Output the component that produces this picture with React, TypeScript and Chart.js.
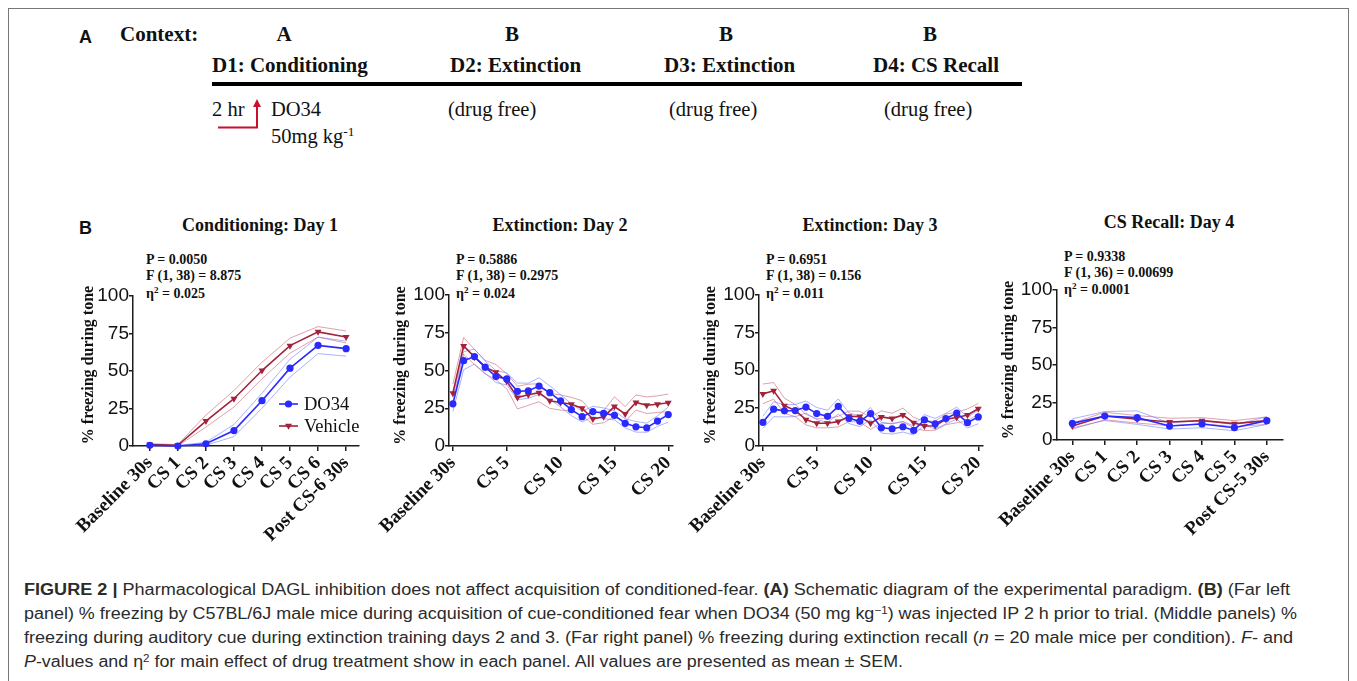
import React, { useEffect, useLayoutEffect, useRef } from "react";
import { Chart, registerables } from "chart.js";

Chart.register(...registerables);

// ---------------- data ----------------
const yTickValues = [0, 25, 50, 75, 100];

const d1Labels = ["Baseline 30s", "CS 1", "CS 2", "CS 3", "CS 4", "CS 5", "CS 6", "Post CS-6 30s"];
const d1Do34 = [0.5, 0, 1.5, 10.3, 30.2, 51.9, 67.1, 64.9];
const d1Do34Sem = [0.5, 0.3, 1, 4, 5, 6, 5.5, 5];
const d1Vehicle = [1, 0.5, 16.6, 31.5, 50.3, 66.9, 76.1, 72.7];
const d1VehicleSem = [0.5, 0.5, 4, 5.5, 5.5, 5, 3.5, 4];

const d23TickValues = [0, 5, 10, 15, 20];
const d23TickLabels = ["Baseline 30s", "CS 5", "CS 10", "CS 15", "CS 20"];

const d2Do34 = [27.9, 56.5, 59.2, 52.2, 46, 44.4, 36.2, 36.6, 39.7, 35.3, 29.9, 24.1, 19.4, 22.8, 21.7, 20.3, 15, 12.7, 12.1, 16.5, 20.8];
const d2Do34Sem = [5, 6, 5, 4, 4, 4, 5.5, 5, 5.5, 4.5, 4, 4, 3.5, 3.5, 3.5, 3, 3, 3.5, 3, 3.5, 5];
const d2Vehicle = [35, 66.3, 59, 52.2, 48.9, 42.9, 32.1, 33.9, 35.3, 29.9, 28.8, 27.7, 25, 17.9, 19.4, 26.1, 21.2, 28.8, 27, 27.7, 28.6];
const d2VehicleSem = [6, 5.5, 5, 4.5, 5, 5, 7.5, 7, 6, 5, 5, 4.5, 5, 3.5, 4, 6.5, 5, 5, 5.5, 5.5, 5.8];

const d3Do34 = [15.6, 24.3, 23.2, 23.4, 25.7, 21.4, 19.6, 26.1, 18.3, 16.3, 21.4, 12, 11.4, 12.7, 10.3, 17.2, 14.7, 18.1, 21.7, 15.4, 19.2];
const d3Do34Sem = [4, 5, 4, 4, 4, 4, 4, 5, 3.5, 3.5, 4, 3.5, 3.5, 3.5, 3, 3.5, 3.5, 3.5, 4, 3.5, 4.5];
const d3Vehicle = [34.4, 36.4, 26.6, 23.4, 17.4, 15, 15, 16.1, 19.6, 19.4, 15, 19.2, 18.1, 20.5, 15.4, 13.2, 13.4, 17.6, 18.8, 20.5, 24.6];
const d3VehicleSem = [6.5, 5.5, 5, 4, 3.5, 3, 3, 3.5, 3.5, 3.5, 4, 4, 3.5, 4.5, 3.5, 3, 3, 3.5, 3.5, 4, 3.5];

const d4Labels = ["Baseline 30s", "CS 1", "CS 2", "CS 3", "CS 4", "CS 5", "Post CS-5 30s"];
const d4Do34 = [11.1, 16, 14.9, 9.3, 10.7, 8.2, 12.9];
const d4Do34Sem = [3, 3, 4.5, 2, 2.5, 2, 2.5];
const d4Vehicle = [9.3, 16, 13.8, 12, 12.9, 10.9, 12.9];
const d4VehicleSem = [2, 2.5, 2.5, 2.5, 2, 2, 2.5];

const seriesNames = ["DO34", "Vehicle"];
const yAxisTitle = "% freezing during tone";

// ---------------- styles ----------------
const SERIF = '"Liberation Serif", "Times New Roman", Times, serif';
const SANS = '"Liberation Sans", Arial, Helvetica, sans-serif';
const BLUE = "#2a2aff";
const RED = "#a3223a";
const BLUE_SEM = "rgba(100,115,255,0.55)";
const RED_SEM = "rgba(190,70,90,0.5)";
const AXIS = "#1c1c1c";
const INK = "#111";

type Geo = {
  left: number; top: number; width: number; height: number;
  axisL: number; axisR: number; y100: number; y0: number;
  xMin: number; xMax: number; titleOffset: number; titleDy: number;
};

const yTitlePlugin = {
  id: "yTitle",
  afterDraw(chart: any, _args: any, opts: any) {
    const { ctx, chartArea } = chart;
    ctx.save();
    ctx.translate(chartArea.left - opts.offset, (chartArea.top + chartArea.bottom) / 2 + opts.dy);
    ctx.rotate(-Math.PI / 2);
    ctx.font = `bold 16px ${SERIF}`;
    ctx.fillStyle = INK;
    ctx.textAlign = "center";
    ctx.textBaseline = "middle";
    ctx.fillText(yAxisTitle, 0, 0);
    ctx.restore();
  },
};

const legendPlugin = {
  id: "innerLegend",
  afterDraw(chart: any) {
    const { ctx, chartArea } = chart;
    const { left, bottom } = chartArea;
    const items = [
      { ds: chart.data.datasets[0], dy: 42, tri: false },
      { ds: chart.data.datasets[1], dy: 20, tri: true },
    ];
    ctx.save();
    for (const it of items) {
      const y = bottom - it.dy;
      ctx.strokeStyle = it.ds.borderColor;
      ctx.lineWidth = 1.6;
      ctx.beginPath();
      ctx.moveTo(left + 146, y);
      ctx.lineTo(left + 165, y);
      ctx.stroke();
      ctx.fillStyle = it.ds.borderColor;
      const cx = left + 155.5;
      ctx.beginPath();
      if (it.tri) {
        ctx.moveTo(cx - 3.5, y - 2.2);
        ctx.lineTo(cx + 3.5, y - 2.2);
        ctx.lineTo(cx, y + 3.8);
        ctx.closePath();
      } else {
        ctx.arc(cx, y, 3.6, 0, Math.PI * 2);
      }
      ctx.fill();
      ctx.fillStyle = INK;
      ctx.font = `18.5px ${SERIF}`;
      ctx.textAlign = "left";
      ctx.textBaseline = "middle";
      ctx.fillText(it.ds.label, left + 171, y + 1);
    }
    ctx.restore();
  },
};

function Panel(props: {
  geo: Geo; tickValues: number[]; tickLabels: string[];
  do34: number[]; do34Sem: number[]; veh: number[]; vehSem: number[]; legend?: boolean;
}) {
  const { geo, tickValues, tickLabels, do34, do34Sem, veh, vehSem, legend } = props;
  const ref = useRef<HTMLCanvasElement>(null);
  useEffect(() => {
    const canvas = ref.current;
    if (!canvas) return;
    const pts = (a: number[]) => a.map((y, i) => ({ x: i, y }));
    const up = (a: number[], s: number[]) => a.map((y, i) => ({ x: i, y: y + s[i] }));
    const lo = (a: number[], s: number[]) => a.map((y, i) => ({ x: i, y: Math.max(0, y - s[i]) }));
    const labelAt = (v: number) => {
      const k = tickValues.indexOf(Math.round(v * 1000) / 1000);
      return k >= 0 ? tickLabels[k] : "";
    };
    const semLine = (data: any, color: string, label: string) => ({
      label, data, borderColor: color, backgroundColor: color, borderWidth: 1,
      pointRadius: 0, clip: false as any, tension: 0,
    });
    const chart = new Chart(canvas, {
      type: "line",
      data: {
        datasets: [
          {
            label: seriesNames[0], data: pts(do34), borderColor: BLUE, backgroundColor: BLUE,
            borderWidth: 1.6, pointRadius: 3.6, pointBorderWidth: 0, pointStyle: "circle",
            clip: false as any, tension: 0,
          },
          {
            label: seriesNames[1], data: pts(veh), borderColor: RED, backgroundColor: RED,
            borderWidth: 1.6, pointRadius: 4, pointBorderWidth: 0, pointStyle: "triangle",
            pointRotation: 180, clip: false as any, tension: 0,
          },
          semLine(up(do34, do34Sem), BLUE_SEM, "DO34 + SEM"),
          semLine(lo(do34, do34Sem), BLUE_SEM, "DO34 - SEM"),
          semLine(up(veh, vehSem), RED_SEM, "Vehicle + SEM"),
          semLine(lo(veh, vehSem), RED_SEM, "Vehicle - SEM"),
        ],
      } as any,
      options: {
        animation: false,
        responsive: false,
        maintainAspectRatio: false,
        events: [],
        layout: {
          padding: { top: geo.y100 - geo.top, right: geo.left + geo.width - geo.axisR, left: 0, bottom: 0 },
        },
        plugins: {
          legend: { display: false },
          tooltip: { enabled: false },
          yTitle: { offset: geo.titleOffset, dy: geo.titleDy },
        } as any,
        scales: {
          x: {
            type: "linear",
            min: geo.xMin,
            max: geo.xMax,
            bounds: "data",
            afterBuildTicks: (s: any) => {
              s.ticks = tickValues.map((v) => ({ value: v }));
            },
            afterFit: (s: any) => {
              s.height = geo.top + geo.height - geo.y0;
            },
            ticks: {
              autoSkip: false,
              maxRotation: 45,
              minRotation: 45,
              padding: 1,
              color: INK,
              font: { family: SERIF, size: 19, weight: "bold" },
              callback: (v: any) => labelAt(Number(v)),
            },
            grid: { drawOnChartArea: false, drawTicks: true, tickLength: 5, color: AXIS, lineWidth: 1.5 },
            border: { display: true, color: AXIS, width: 1.5 },
          },
          y: {
            type: "linear",
            min: 0,
            max: 100,
            afterBuildTicks: (s: any) => {
              s.ticks = yTickValues.map((v) => ({ value: v }));
            },
            afterFit: (s: any) => {
              s.width = geo.axisL - geo.left;
            },
            ticks: { padding: 0, color: INK, font: { family: SANS, size: 19 } },
            grid: { drawOnChartArea: false, drawTicks: true, tickLength: 4, color: AXIS, lineWidth: 1.5 },
            border: { display: true, color: AXIS, width: 1.5 },
          },
        } as any,
      },
      plugins: legend ? [yTitlePlugin, legendPlugin] : [yTitlePlugin],
    } as any);
    return () => chart.destroy();
  }, []);
  return (
    <canvas
      ref={ref}
      width={geo.width}
      height={geo.height}
      style={{ position: "absolute", left: geo.left, top: geo.top, width: geo.width, height: geo.height }}
    />
  );
}

const SERIF_BASE = 0.8375;
const SANS_BASE = 0.8465;

function Txt(props: {
  x: number; y: number; size: number; serif?: boolean; bold?: boolean; center?: boolean;
  color?: string; fit?: number; children: any;
}) {
  const { x, y, size, serif, bold, center, color, fit, children } = props;
  const ref = useRef<HTMLDivElement>(null);
  useLayoutEffect(() => {
    if (!fit || !ref.current) return;
    const el = ref.current;
    el.style.transform = "";
    const w = el.getBoundingClientRect().width;
    if (w > 0) el.style.transform = `scaleX(${fit / w})`;
  }, [fit]);
  const base = serif ? SERIF_BASE : SANS_BASE;
  return (
    <div
      ref={ref}
      style={{
        position: "absolute",
        left: x,
        top: y - base * size,
        fontFamily: serif ? SERIF : SANS,
        fontSize: size,
        fontWeight: bold ? 700 : 400,
        lineHeight: 1,
        whiteSpace: "nowrap",
        color: color || INK,
        transformOrigin: "0 0",
        transform: center ? "translateX(-50%)" : undefined,
      }}
    >
      {children}
    </div>
  );
}

const Sup = ({ children }: { children: any }) => (
  <span style={{ fontSize: "0.65em", position: "relative", top: "-0.55em" }}>{children}</span>
);

const geo1: Geo = { left: 55, top: 250, width: 330, height: 300, axisL: 133, axisR: 359, y100: 296, y0: 446, xMin: -0.6, xMax: 7.46, titleOffset: 44, titleDy: -6 };
const geo2: Geo = { left: 370, top: 250, width: 330, height: 300, axisL: 449, axisR: 673, y100: 295, y0: 446, xMin: -0.36, xMax: 20.44, titleOffset: 48, titleDy: -5 };
const geo3: Geo = { left: 680, top: 250, width: 330, height: 300, axisL: 759, axisR: 983, y100: 294.5, y0: 446, xMin: -0.36, xMax: 20.44, titleOffset: 48, titleDy: -5 };
const geo4: Geo = { left: 985, top: 250, width: 325, height: 300, axisL: 1056.5, axisR: 1283, y100: 290, y0: 440, xMin: -0.49, xMax: 6.5, titleOffset: 47.5, titleDy: -5 };

export default function App() {
  const capColor = "#2b2b2b";
  return (
    <div
      style={{
        position: "absolute", left: 0, top: 0, width: 1357, height: 681,
        overflow: "hidden", background: "#fff",
      }}
    >
      {/* frame */}
      <div style={{ position: "absolute", left: 8, top: 8, width: 1341, height: 700, border: "1px solid #777", boxSizing: "border-box" }} />

      {/* Panel A schematic */}
      <Txt x={79} y={43.5} size={18} bold>A</Txt>
      <Txt x={120} y={41.5} size={21} serif bold>Context:</Txt>
      <Txt x={284} y={41.5} size={21} serif bold center>A</Txt>
      <Txt x={512} y={41.5} size={21} serif bold center>B</Txt>
      <Txt x={726} y={41.5} size={21} serif bold center>B</Txt>
      <Txt x={930} y={41.5} size={21} serif bold center>B</Txt>
      <Txt x={212} y={73} size={21} serif bold>D1: Conditioning</Txt>
      <Txt x={450} y={73} size={21} serif bold>D2: Extinction</Txt>
      <Txt x={664} y={73} size={21} serif bold>D3: Extinction</Txt>
      <Txt x={873} y={73} size={21} serif bold>D4: CS Recall</Txt>
      <div style={{ position: "absolute", left: 212, top: 82, width: 810, height: 4, background: "#000" }} />
      <Txt x={212} y={116} size={20.5} serif>2 hr</Txt>
      <Txt x={271} y={116} size={20.5} serif>DO34</Txt>
      <Txt x={271} y={143.5} size={20.5} serif>50mg kg<Sup>-1</Sup></Txt>
      <Txt x={448} y={116} size={20.5} serif>(drug free)</Txt>
      <Txt x={669} y={116} size={20.5} serif>(drug free)</Txt>
      <Txt x={884} y={116} size={20.5} serif>(drug free)</Txt>
      <svg style={{ position: "absolute", left: 0, top: 0 }} width={400} height={160}>
        <polyline points="218,127.5 257,127.5 257,106" fill="none" stroke="#c8102e" strokeWidth={2} />
        <polygon points="253,107 261,107 257,99" fill="#c8102e" />
      </svg>

      {/* Panel B */}
      <Txt x={79} y={234.5} size={18} bold>B</Txt>

      <Txt x={260} y={231} size={18} serif bold center>Conditioning: Day 1</Txt>
      <Txt x={560} y={231} size={18} serif bold center>Extinction: Day 2</Txt>
      <Txt x={870} y={231} size={18} serif bold center>Extinction: Day 3</Txt>
      <Txt x={1169} y={228} size={18} serif bold center>CS Recall: Day 4</Txt>

      <Txt x={146} y={265} size={14} serif bold>P = 0.0050</Txt>
      <Txt x={146} y={281} size={14} serif bold>F (1, 38) = 8.875</Txt>
      <Txt x={146} y={299} size={14} serif bold>η<Sup>2</Sup> = 0.025</Txt>

      <Txt x={456} y={265} size={14} serif bold>P =  0.5886</Txt>
      <Txt x={456} y={280.5} size={14} serif bold>F (1, 38) = 0.2975</Txt>
      <Txt x={456} y={298.5} size={14} serif bold>η<Sup>2</Sup> = 0.024</Txt>

      <Txt x={766} y={265} size={14} serif bold>P = 0.6951</Txt>
      <Txt x={766} y={280.5} size={14} serif bold>F (1, 38) = 0.156</Txt>
      <Txt x={766} y={298.5} size={14} serif bold>η<Sup>2</Sup> = 0.011</Txt>

      <Txt x={1064} y={262} size={14} serif bold>P = 0.9338</Txt>
      <Txt x={1064} y={278} size={14} serif bold>F (1, 36) = 0.00699</Txt>
      <Txt x={1064} y={295} size={14} serif bold>η<Sup>2</Sup> = 0.0001</Txt>

      <Panel geo={geo1} tickValues={d1Labels.map((_, i) => i)} tickLabels={d1Labels}
        do34={d1Do34} do34Sem={d1Do34Sem} veh={d1Vehicle} vehSem={d1VehicleSem} legend />
      <Panel geo={geo2} tickValues={d23TickValues} tickLabels={d23TickLabels}
        do34={d2Do34} do34Sem={d2Do34Sem} veh={d2Vehicle} vehSem={d2VehicleSem} />
      <Panel geo={geo3} tickValues={d23TickValues} tickLabels={d23TickLabels}
        do34={d3Do34} do34Sem={d3Do34Sem} veh={d3Vehicle} vehSem={d3VehicleSem} />
      <Panel geo={geo4} tickValues={d4Labels.map((_, i) => i)} tickLabels={d4Labels}
        do34={d4Do34} do34Sem={d4Do34Sem} veh={d4Vehicle} vehSem={d4VehicleSem} />

      {/* Caption */}
      <Txt x={24} y={596} size={16} color={capColor} fit={1266}>
        <b>FIGURE 2 |</b> Pharmacological DAGL inhibition does not affect acquisition of conditioned-fear. <b>(A)</b> Schematic diagram of the experimental paradigm. <b>(B)</b> (Far left
      </Txt>
      <Txt x={24} y={620} size={16} color={capColor} fit={1273}>
        panel) % freezing by C57BL/6J male mice during acquisition of cue-conditioned fear when DO34 (50 mg kg<Sup>−1</Sup>) was injected IP 2 h prior to trial. (Middle panels) %
      </Txt>
      <Txt x={24} y={644} size={16} color={capColor} fit={1269}>
        freezing during auditory cue during extinction training days 2 and 3. (Far right panel) % freezing during extinction recall (<i>n</i> = 20 male mice per condition). <i>F</i>- and
      </Txt>
      <Txt x={24} y={668} size={16} color={capColor} fit={879}>
        <i>P</i>-values and η<Sup>2</Sup> for main effect of drug treatment show in each panel. All values are presented as mean ± SEM.
      </Txt>
    </div>
  );
}
